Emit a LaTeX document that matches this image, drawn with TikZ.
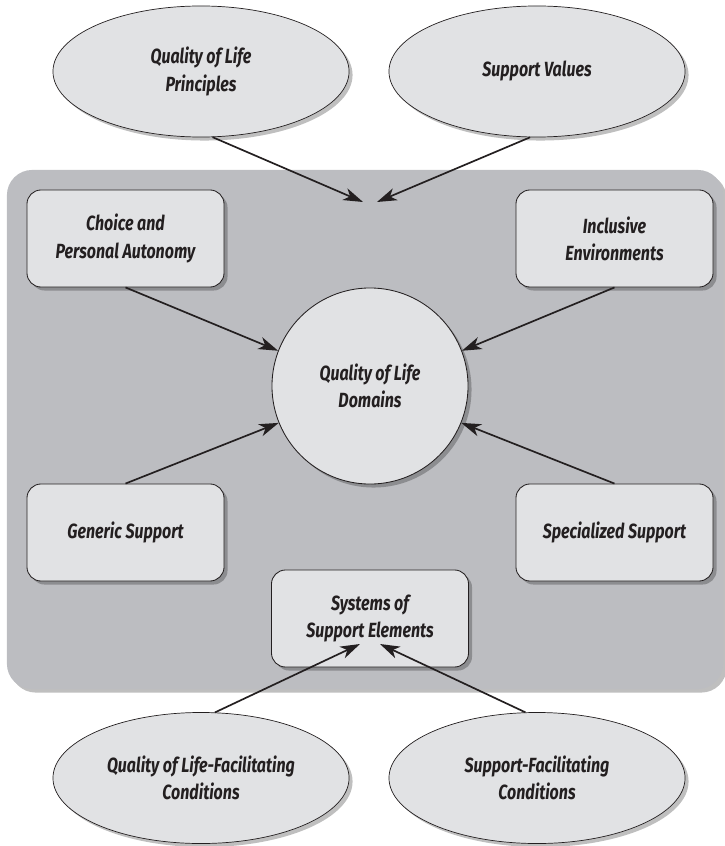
\documentclass[tikz,border=0pt]{standalone}
\usepackage{fontspec}
\newfontfamily\figfont[FakeStretch=0.78]{Fira Sans}
\usepackage{tikz}
\usetikzlibrary{shapes.geometric,arrows.meta,shadows}
\definecolor{panelgray}{RGB}{188,189,193}
\definecolor{nodefill}{RGB}{225,226,228}
\definecolor{inkdark}{RGB}{35,31,32}

\begin{document}
\begin{tikzpicture}[x=0.025cm, y=-0.025cm,
    every node/.style={font=\figfont\bfseries\itshape\fontsize{14.6}{19.4}\selectfont, text=inkdark, align=center},
    softshadow/.style={drop shadow={shadow xshift=2.5pt, shadow yshift=-2.5pt, fill=black, opacity=0.25}},
    panel/.style={fill=panelgray, rounded corners=18pt, minimum width=17.9cm, minimum height=12.975cm, inner sep=0pt, softshadow},
    ovalnode/.style={draw=inkdark, line width=0.5pt, ellipse, fill=nodefill, minimum width=7.4cm, minimum height=3.275cm, inner sep=0pt, softshadow},
    boxnode/.style={draw=inkdark, line width=0.6pt, rectangle, rounded corners=10pt, fill=nodefill, minimum width=4.925cm, minimum height=2.425cm, softshadow},
    hubnode/.style={draw=inkdark, line width=0.6pt, circle, fill=nodefill, minimum size=4.9cm, inner sep=0pt, softshadow},
    feed/.style={draw=inkdark, line width=1.2pt, -{Stealth[length=14pt, width=9pt, inset=4pt]}}]
    \useasboundingbox (0,0) rectangle (724,846);

    % grey field behind the middle part
    \node[panel] (panel) at (365,429.5) {};

    \node[ovalnode] (qolp) at (201,71.5) {Quality of Life\\Principles};
    \node[ovalnode] (supval) at (537,71.5) {Support Values};

    \node[boxnode] (choice) at (125.5,238.5) {Choice and\\Personal Autonomy};
    \node[boxnode] (inclusive) at (614.5,238.5) {Inclusive\\Environments};
    \node[hubnode] (domains) at (370,386) {Quality of Life\\Domains};
    \node[boxnode] (generic) at (125.5,532.5) {Generic Support};
    \node[boxnode] (special) at (614.5,532.5) {Specialized Support};
    \node[boxnode] (systems) at (370,618.5) {Systems of\\Support Elements};

    \node[ovalnode] (qolfc) at (201,778) {Quality of Life-Facilitating\\Conditions};
    \node[ovalnode] (supfc) at (537,778) {Support-Facilitating\\Conditions};

    % free ends of the arrows
    \coordinate (topL) at (363,202);
    \coordinate (topR) at (377,202);
    \coordinate (sysL) at (360,644);
    \coordinate (sysR) at (380,644);

    \draw[feed] (qolp.-80) -- (topL);
    \draw[feed] (supval.-96) -- (topR);
    \draw[feed] (choice.south) -- (domains.159);
    \draw[feed] (inclusive.south) -- (domains.21);
    \draw[feed] (generic.north) -- (domains.202);
    \draw[feed] (special.north) -- (domains.338);
    \draw[feed] (qolfc.78) -- (sysL);
    \draw[feed] (supfc.100) -- (sysR);
\end{tikzpicture}
\end{document}
